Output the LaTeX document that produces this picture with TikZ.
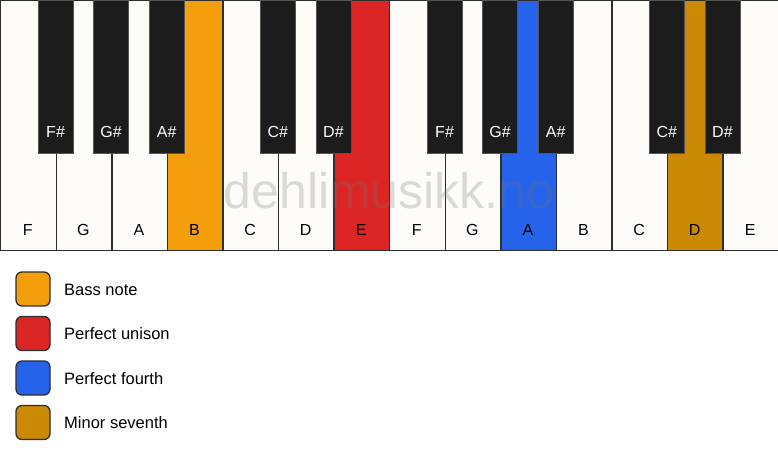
\documentclass[tikz,border=0pt]{standalone}
\usepackage{fontspec}
\setmainfont{Liberation Sans}
\begin{document}
\begin{tikzpicture}[x=1pt,y=-1pt,
  whitekey/.style={draw=keyline,line width=1.4pt,fill=keywhite},
  blackkey/.style={draw=blackline,line width=0.8pt,fill=keyblack},
  wlabel/.style={font=\fontsize{16}{16}\selectfont,text=black},
  blabel/.style={font=\fontsize{16}{16}\selectfont,text=white},
  legbox/.style={draw=keyline,line width=1.3pt,rounded corners=6pt,minimum size=34pt,inner sep=0pt},
  legtext/.style={font=\fontsize{16.5}{16.5}\selectfont,anchor=west,inner sep=0pt}]
\definecolor{keywhite}{HTML}{FDFCF8}
\definecolor{keyblack}{HTML}{1C1C1C}
\definecolor{keyline}{HTML}{2E2E2E}
\definecolor{blackline}{HTML}{555555}
\definecolor{cbass}{HTML}{F59E0B}
\definecolor{cunison}{HTML}{DC2626}
\definecolor{cfourth}{HTML}{2563EB}
\definecolor{cseventh}{HTML}{CA8A04}
\useasboundingbox (0,0) rectangle (778,461);
\fill[white] (0,0) rectangle (778,461);
\def\ww{55.5714}
% white keys
\foreach \i/\n/\c in {0/F/keywhite,1/G/keywhite,2/A/keywhite,3/B/cbass,4/C/keywhite,5/D/keywhite,6/E/cunison,7/F/keywhite,8/G/keywhite,9/A/cfourth,10/B/keywhite,11/C/keywhite,12/D/cseventh,13/E/keywhite}{
  \node[whitekey,fill=\c,anchor=north west,minimum width=\ww pt,minimum height=250pt,inner sep=0pt] (w\i) at ({\i*\ww},0) {};
  \node[wlabel] (wl\i) at ({(\i+0.5)*\ww},230) {\n};
}
% watermark
\node[font=\fontsize{50}{50}\selectfont,text=black!55,opacity=0.25] (wm) at (389,191) {dehlimusikk.no};
% black keys
\foreach \i/\n in {1/F\#,2/G\#,3/A\#,5/C\#,6/D\#,8/F\#,9/G\#,10/A\#,12/C\#,13/D\#}{
  \node[blackkey,anchor=north,minimum width=35pt,minimum height=153pt,inner sep=0pt] (b\i) at ({\i*\ww},0) {};
  \node[blabel] (bl\i) at ({\i*\ww},132) {\n};
}
% legend
\foreach \k/\c/\t in {0/cbass/Bass note,1/cunison/Perfect unison,2/cfourth/Perfect fourth,3/cseventh/Minor seventh}{
  \node[legbox,fill=\c] (lb\k) at (33,{289+\k*44.5}) {};
  \node[legtext] (lt\k) at (64,{289.5+\k*44.5}) {\t};
}
\end{tikzpicture}
\end{document}
